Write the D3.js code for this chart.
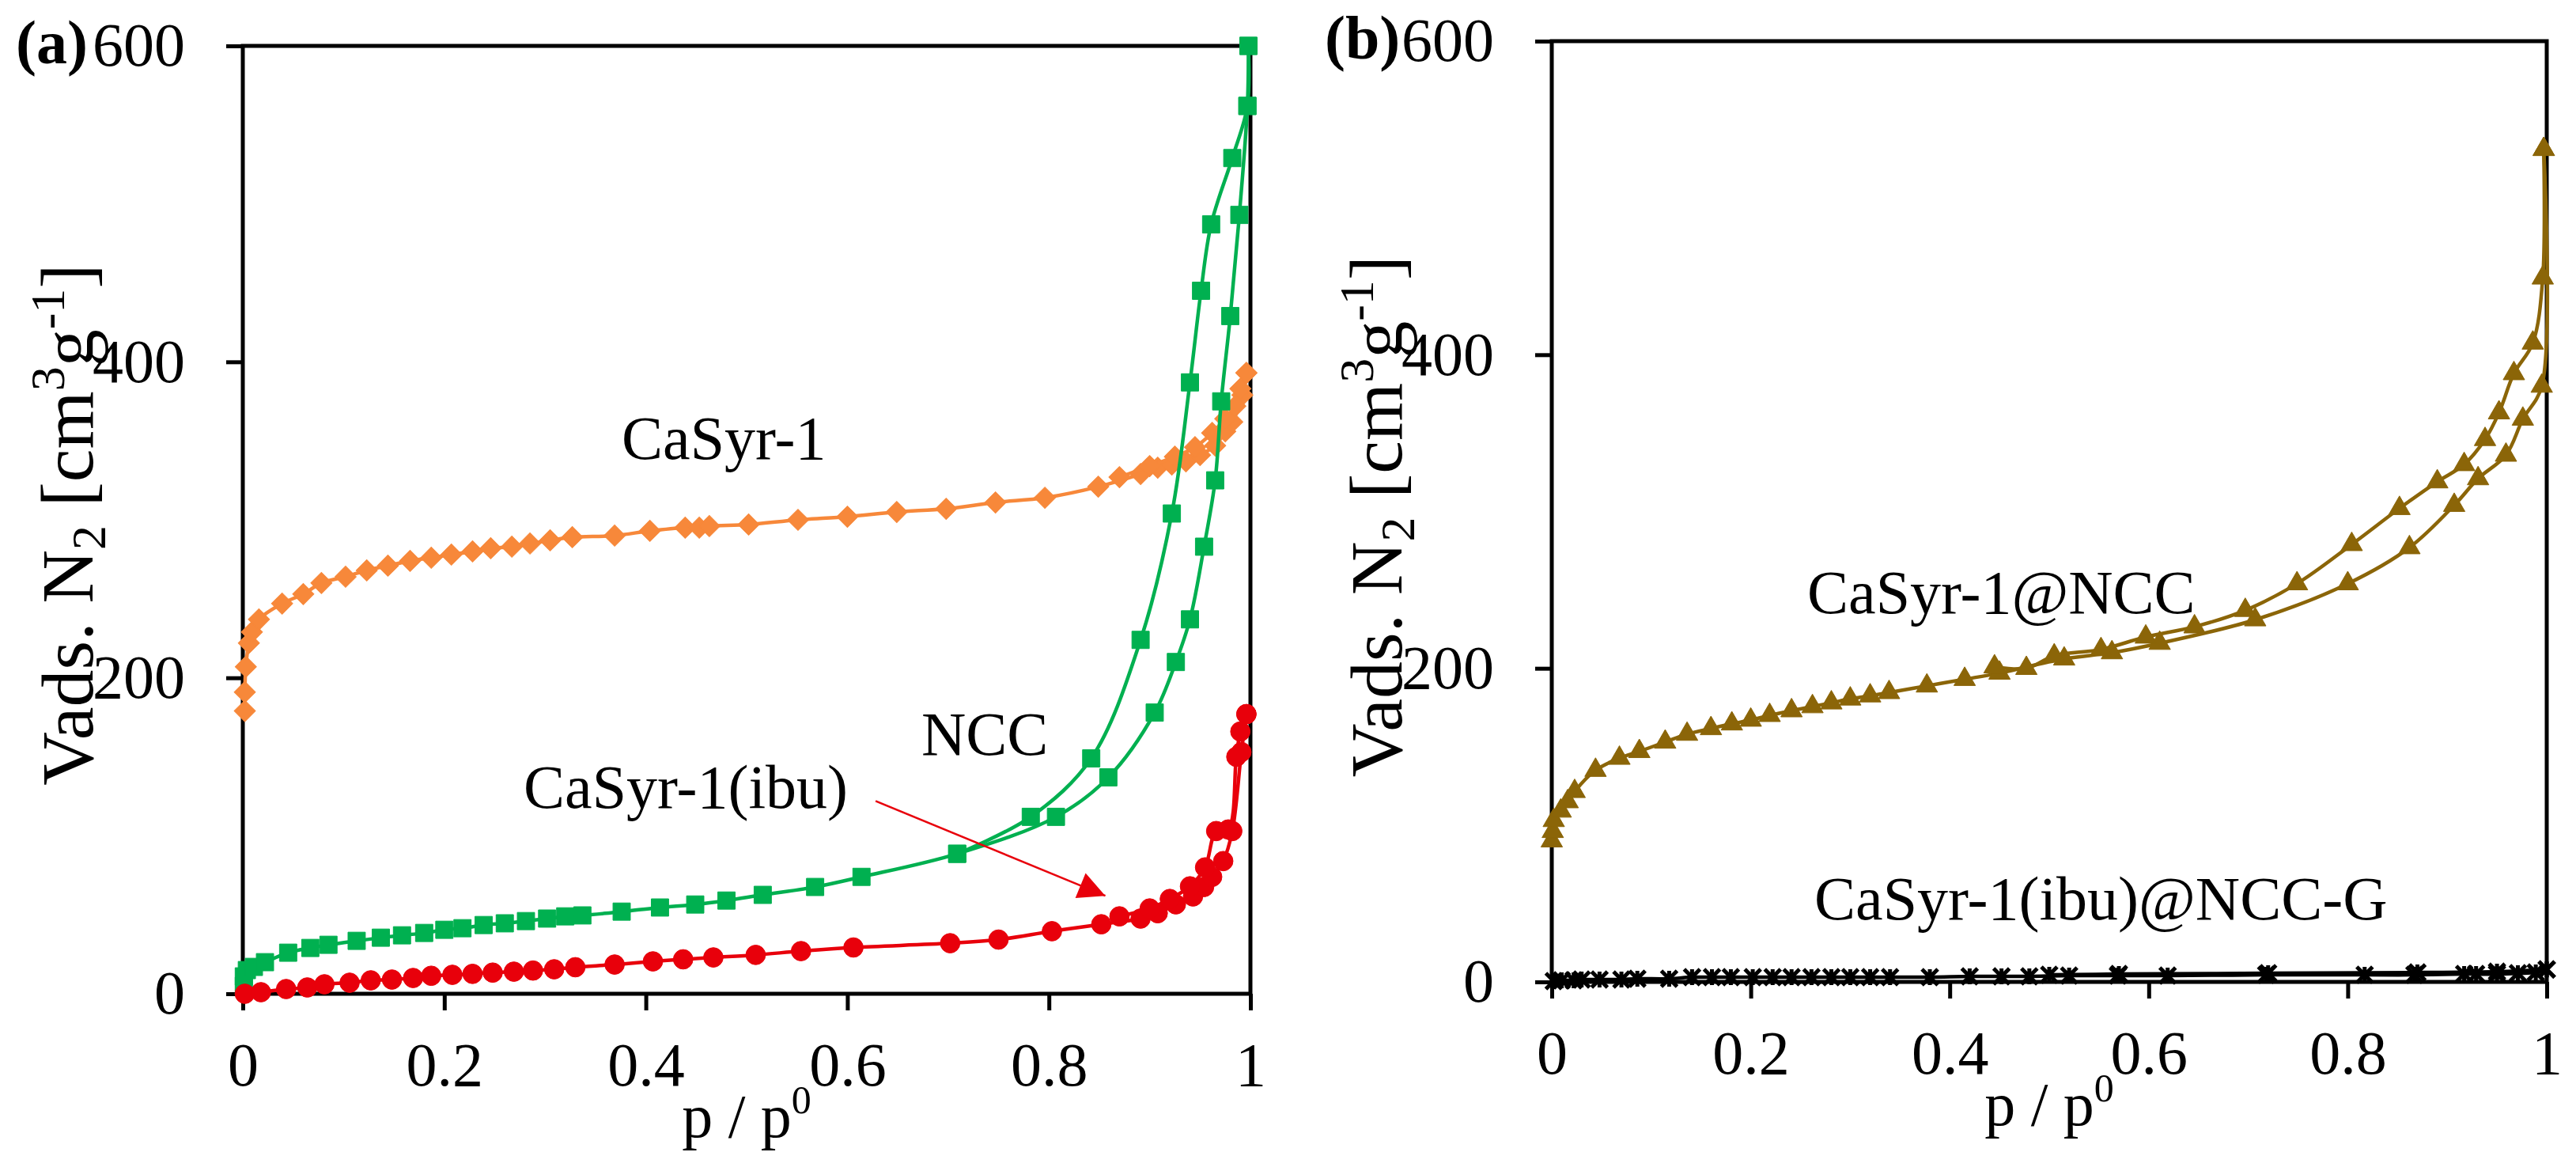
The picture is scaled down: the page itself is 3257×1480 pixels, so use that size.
<!DOCTYPE html>
<html>
<head>
<meta charset="utf-8">
<script src="https://cdn.jsdelivr.net/npm/d3@7"></script>
<style>
  body { margin: 0; background: #fff; }
  svg { display: block; }
  text { font-family: "Liberation Serif", "Times New Roman", serif; fill: #000; }
  .tick text { font-size: 78px; }
  .tick line { stroke: #000; stroke-width: 5px; }
</style>
</head>
<body>
<svg id="chart" width="3257" height="1480"></svg>
<script>
// ---- data (p/p0, V ads) ----
const xTicks = [0, 0.2, 0.4, 0.6, 0.8, 1];
const yTicks = [0, 200, 400, 600];

const casyrAds = [[0.002,179],[0.002,191],[0.003,207],[0.006,222],[0.009,229],[0.016,237],[0.039,247],[0.06,253],[0.078,260],[0.102,264],[0.123,268],[0.144,271],[0.166,274],[0.187,276],[0.207,278],[0.228,280],[0.246,282],[0.267,283],[0.285,285],[0.305,287],[0.327,289],[0.369,290],[0.404,293],[0.439,295],[0.453,295],[0.463,296],[0.502,297],[0.551,300],[0.6,302],[0.649,305],[0.698,307],[0.747,311],[0.796,314],[0.849,321],[0.891,329],[0.908,333],[0.922,335],[0.936,337],[0.95,341],[0.965,347],[0.975,356],[0.982,362],[0.992,379],[0.996,393]];
const casyrDes = [[0.996,393],[0.99,383],[0.985,372],[0.975,364],[0.962,355],[0.945,346],[0.925,340],[0.9,334],[0.87,327]];

const ibuAds = [[0.001,5],[0.001,11],[0.004,15],[0.011,17],[0.022,20],[0.045,26],[0.067,29],[0.085,31],[0.113,33.5],[0.137,35.5],[0.158,37],[0.18,38.5],[0.2,40.5],[0.218,41.5],[0.239,43.5],[0.26,44.6],[0.281,46],[0.302,47.6],[0.32,49],[0.337,49.6],[0.376,52],[0.414,54.6],[0.449,56.5],[0.48,59],[0.516,62.6],[0.568,67.6],[0.614,74],[0.709,88.6],[0.807,112],[0.859,137],[0.905,178],[0.926,210],[0.94,237],[0.954,283],[0.965,325],[0.971,375],[0.98,429],[0.989,493],[0.997,562],[0.998,600]];
const ibuDes = [[0.998,600],[0.997,562],[0.982,529],[0.961,487],[0.951,445],[0.94,387],[0.922,304],[0.891,224],[0.842,149],[0.782,112],[0.709,88.6]];

const nccAds = [[0.002,0],[0.018,1],[0.043,3],[0.064,4],[0.081,6],[0.106,7],[0.127,8.5],[0.148,9],[0.169,10],[0.187,11.4],[0.208,12],[0.228,12.6],[0.248,13.4],[0.269,14],[0.288,14.7],[0.309,15.5],[0.33,16.8],[0.369,18.5],[0.407,20.5],[0.437,21.8],[0.467,23],[0.509,24.6],[0.554,27],[0.606,29.3],[0.702,32],[0.75,34.3],[0.803,39.6],[0.852,44],[0.891,47.6],[0.908,51],[0.926,56.6],[0.943,61.6],[0.954,67.6],[0.962,74],[0.973,84],[0.982,103],[0.991,153],[0.996,177]];
const nccDes = [[0.996,177],[0.99,166],[0.986,150],[0.978,104],[0.966,103],[0.955,80],[0.94,68],[0.92,60],[0.9,54],[0.87,49]];

const nccCompAds = [[0,90],[0.001,96],[0.002,103],[0.009,109],[0.016,115],[0.023,121.5],[0.044,135],[0.068,142.7],[0.088,147],[0.114,153],[0.136,158],[0.16,161.6],[0.181,164.6],[0.2,167],[0.219,170],[0.241,173],[0.262,175.6],[0.281,178],[0.3,180.5],[0.32,182.5],[0.339,184.6],[0.377,188.8],[0.415,193],[0.45,197],[0.515,206],[0.563,210],[0.611,216],[0.707,231],[0.8,254],[0.862,277],[0.907,304],[0.931,321],[0.959,336],[0.976,359],[0.995,380],[0.997,531]];
const nccCompDes = [[0.997,531],[0.996,449],[0.986,407.5],[0.967,388],[0.952,363],[0.938,346],[0.917,330],[0.89,319],[0.852,302],[0.804,279],[0.749,254],[0.697,237],[0.646,226.5],[0.597,220],[0.552,212],[0.505,208],[0.477,200],[0.445,201]];

const gelAds = [[0.002,0.5],[0.01,1],[0.022,1],[0.03,1.5],[0.048,1.5],[0.07,1.5],[0.086,2],[0.118,2],[0.141,3],[0.161,3],[0.18,3],[0.202,3],[0.222,3],[0.241,3],[0.261,3],[0.281,3],[0.3,3],[0.32,3],[0.34,3],[0.38,3],[0.42,3.5],[0.452,3.5],[0.48,3.5],[0.52,4],[0.569,4],[0.619,4],[0.718,4.5],[0.817,4.5],[0.867,4.5],[0.917,5],[0.929,5],[0.95,5],[0.971,5.5],[0.989,6],[1.0,8]];
const gelDes = [[1.0,8],[0.95,6.5],[0.87,6],[0.72,5.5],[0.57,5],[0.5,4.5]];

// arrow pointing at the NCC curve (data units)
const arrowFrom = [0.628, 122], arrowTo = [0.856, 62];

const svg = d3.select("#chart");

svg.append("defs").append("marker")
  .attr("id", "arrowhead")
  .attr("viewBox", "0 0 10 10")
  .attr("refX", 10).attr("refY", 5)
  .attr("markerUnits", "userSpaceOnUse")
  .attr("markerWidth", 46).attr("markerHeight", 34)
  .attr("orient", "auto")
  .append("path").attr("d", "M0,0L10,5L0,10Z").attr("fill", "#e8000b");

// star marker (x with vertical bar), like Excel
const symbolStar = {
  draw(ctx, size) {
    const r = Math.sqrt(size) / 2;
    ctx.moveTo(-r, -r); ctx.lineTo(r, r);
    ctx.moveTo(-r, r); ctx.lineTo(r, -r);
    ctx.moveTo(0, -r); ctx.lineTo(0, r);
  }
};

const serif = '"Liberation Serif", "Times New Roman", serif';

function panel(box, label) {
  const x = d3.scaleLinear().domain([0, 1]).range([box.left, box.right]);
  const y = d3.scaleLinear().domain([0, 600]).range([box.bottom, box.top]);
  const g = svg.append("g");

  // frame
  g.append("rect")
    .attr("x", box.left).attr("y", box.top)
    .attr("width", box.right - box.left).attr("height", box.bottom - box.top)
    .attr("fill", "none").attr("stroke", "#000").attr("stroke-width", 5);

  let yAxis = g.append("g")
    .attr("transform", `translate(${box.left},0)`)
    .call(d3.axisLeft(y).tickValues(yTicks).tickFormat(d3.format("d")).tickSize(21).tickSizeOuter(0).tickPadding(52));
  yAxis.select(".domain").remove();
  yAxis.attr("font-family", serif).attr("font-size", 78);

  let xAxis = g.append("g")
    .attr("transform", `translate(0,${box.bottom})`)
    .call(d3.axisBottom(x).tickValues(xTicks).tickFormat(d => d === 0 || d === 1 ? d3.format("d")(d) : d3.format(".1f")(d)).tickSize(21).tickSizeOuter(0).tickPadding(40));
  xAxis.select(".domain").remove();
  xAxis.attr("font-family", serif).attr("font-size", 78);

  // panel letter
  g.append("text")
    .attr("x", box.left - 287).attr("y", box.top + 22)
    .attr("font-size", 78).attr("font-weight", "bold")
    .text(label);

  // axis titles
  const xt = g.append("text")
    .attr("x", (box.left + box.right) / 2).attr("y", box.bottom + 181)
    .attr("text-anchor", "middle").attr("font-size", 78);
  xt.append("tspan").text("p / p");
  xt.append("tspan").attr("dy", -30).attr("font-size", 50).text("0");

  const yt = g.append("text")
    .attr("transform", `translate(${box.left - 190},${(box.top + box.bottom) / 2 + 6}) rotate(-90)`)
    .attr("text-anchor", "middle").attr("font-size", 94);
  yt.append("tspan").text("Vads. N");
  yt.append("tspan").attr("dy", 16).attr("font-size", 62).text("2");
  yt.append("tspan").attr("dy", -16).text(" [cm");
  yt.append("tspan").attr("dy", -36).attr("font-size", 62).text("3");
  yt.append("tspan").attr("dy", 36).text("g");
  yt.append("tspan").attr("dy", -36).attr("font-size", 62).text("-1");
  yt.append("tspan").attr("dy", 36).text("]");

  return { g, x, y };
}

function series(p, data, color, symbolType, size, filled) {
  const line = d3.line()
    .x(d => p.x(d[0])).y(d => p.y(d[1]))
    .curve(d3.curveCatmullRom.alpha(0.5));
  p.g.append("path")
    .datum(data)
    .attr("d", line)
    .attr("fill", "none")
    .attr("stroke", color)
    .attr("stroke-width", 4.5);
  p.g.append("g").selectAll("path")
    .data(data)
    .join("path")
    .attr("transform", d => `translate(${p.x(d[0])},${p.y(d[1])})` + (symbolType === d3.symbolSquare && size < 0 ? " rotate(45)" : ""))
    .attr("d", d3.symbol().type(symbolType).size(Math.abs(size)))
    .attr("fill", filled ? color : "none")
    .attr("stroke", color)
    .attr("stroke-width", filled ? 1 : 5);
}

const pa = panel({ left: 307, right: 1581, top: 58, bottom: 1256 }, "(a)");
const pb = panel({ left: 1962, right: 3220, top: 52, bottom: 1241 }, "(b)");

// panel (a)
const orange = "#f7883a", green = "#00b050", red = "#e8000b", brown = "#8b6508";
series(pa, casyrAds, orange, d3.symbolSquare, -360, true);
series(pa, casyrDes, orange, d3.symbolSquare, -360, true);
series(pa, ibuAds, green, d3.symbolSquare, 480, true);
series(pa, ibuDes, green, d3.symbolSquare, 480, true);
series(pa, nccAds, red, d3.symbolCircle, 480, true);
series(pa, nccDes, red, d3.symbolCircle, 480, true);

pa.g.append("line")
  .attr("x1", pa.x(arrowFrom[0])).attr("y1", pa.y(arrowFrom[1]))
  .attr("x2", pa.x(arrowTo[0])).attr("y2", pa.y(arrowTo[1]))
  .attr("stroke", red).attr("stroke-width", 2.5)
  .attr("marker-end", "url(#arrowhead)");

const labelsA = [["CaSyr-1", 786, 580], ["NCC", 1165, 954], ["CaSyr-1(ibu)", 662, 1021]];
pa.g.selectAll(".lbl").data(labelsA).join("text")
  .attr("x", d => d[1]).attr("y", d => d[2]).attr("font-size", 78).text(d => d[0]);

// panel (b)
series(pb, gelAds, "#000", symbolStar, 400, false);
series(pb, gelDes, "#000", symbolStar, 400, false);
series(pb, nccCompAds, brown, d3.symbolTriangle, 320, true);
series(pb, nccCompDes, brown, d3.symbolTriangle, 320, true);

const labelsB = [["CaSyr-1@NCC", 2285, 775], ["CaSyr-1(ibu)@NCC-G", 2294, 1162]];
pb.g.selectAll(".lbl").data(labelsB).join("text")
  .attr("x", d => d[1]).attr("y", d => d[2]).attr("font-size", 78).text(d => d[0]);
</script>
</body>
</html>
